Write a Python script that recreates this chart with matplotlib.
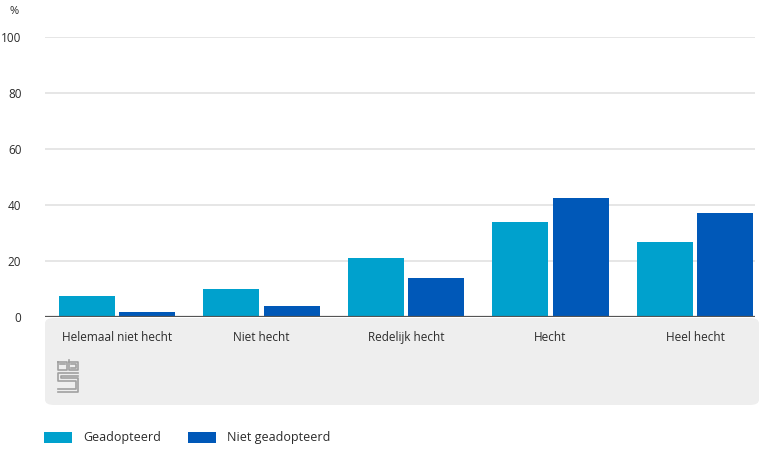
import numpy as np
import matplotlib
matplotlib.use('Agg')
import matplotlib.pyplot as plt
from matplotlib.patches import FancyBboxPatch
from matplotlib.lines import Line2D

categories = ['Helemaal niet hecht', 'Niet hecht', 'Redelijk hecht', 'Hecht', 'Heel hecht']
geadopteerd = [7.5, 10.0, 20.9, 33.9, 26.9]
niet_geadopteerd = [1.8, 3.9, 13.8, 42.6, 37.1]
yticks = [0, 20, 40, 60, 80, 100]

c_light = '#00a1cd'
c_dark = '#0058b8'
txt = '#2b2b2b'

plt.rcParams['font.family'] = ['Open Sans', 'DejaVu Sans']

W, H = 759, 449
fig = plt.figure(figsize=(W / 100, H / 100), dpi=100)

def fx(px):
    return px / W

def fy(py):
    return 1 - py / H

# grey panel under the axis
panel = FancyBboxPatch((fx(45), fy(405)), fx(759) - fx(45), fy(318) - fy(405),
                       boxstyle='round,pad=0,rounding_size=0.012',
                       transform=fig.transFigure, facecolor='#eeeeee',
                       edgecolor='none', zorder=-1)
fig.patches.append(panel)

ax = fig.add_axes([fx(45), fy(317), fx(755) - fx(45), fy(37) - fy(317)])
ax.set_facecolor('none')

x = np.arange(len(categories))
w = 0.3875
off = w / 2 + 0.014
ax.bar(x - off, geadopteerd, w, color=c_light, label='Geadopteerd', zorder=3)
ax.bar(x + off, niet_geadopteerd, w, color=c_dark, label='Niet geadopteerd', zorder=3)

ax.set_xlim(-0.498, 4.415)
ax.set_ylim(0, 100)
ax.set_yticks(yticks)
ax.set_yticklabels([str(v) for v in yticks])
ax.yaxis.grid(True, color='#e2e2e2', linewidth=1.2, zorder=0)
ax.axhline(0, color='#555555', linewidth=1.6, zorder=4)
for s in ax.spines.values():
    s.set_visible(False)
ax.tick_params(axis='y', length=0, pad=17, labelsize=8.5, labelcolor=txt)
ax.tick_params(axis='x', length=0, pad=10, labelsize=8.5, labelcolor=txt)
ax.set_xticks(x)
ax.set_xticklabels(categories)

fig.text(fx(9), fy(12), '%', fontsize=8, color=txt, va='center', ha='left')

# small cbs logo
lc = '#a0a0a0'
logo = [
    [(58, 362), (67, 362), (67, 370), (58, 370), (58, 362)],
    [(69, 360), (69, 370), (78, 370), (78, 362), (69, 362)],
    [(60, 364), (65, 364)],
    [(71, 364), (76, 364), (76, 368), (71, 368)],
    [(78, 373), (58, 373), (58, 381), (76, 381), (76, 389), (58, 389)],
    [(78, 376), (61, 376), (61, 378), (78, 378), (78, 392), (58, 392)],
]
for pts in logo:
    xs = [fx(p[0]) for p in pts]
    ys = [fy(p[1]) for p in pts]
    fig.lines.append(Line2D(xs, ys, transform=fig.transFigure, color=lc, linewidth=1.2))

# legend
handles, labels = ax.get_legend_handles_labels()
leg = fig.legend(handles, labels, loc='center left', bbox_to_anchor=(fx(33), fy(438)),
                 ncol=2, frameon=False, fontsize=9, handlelength=2.2, handleheight=1.0,
                 handletextpad=0.9, columnspacing=2.2, labelcolor=txt)

fig.savefig('out.png', dpi=100)
